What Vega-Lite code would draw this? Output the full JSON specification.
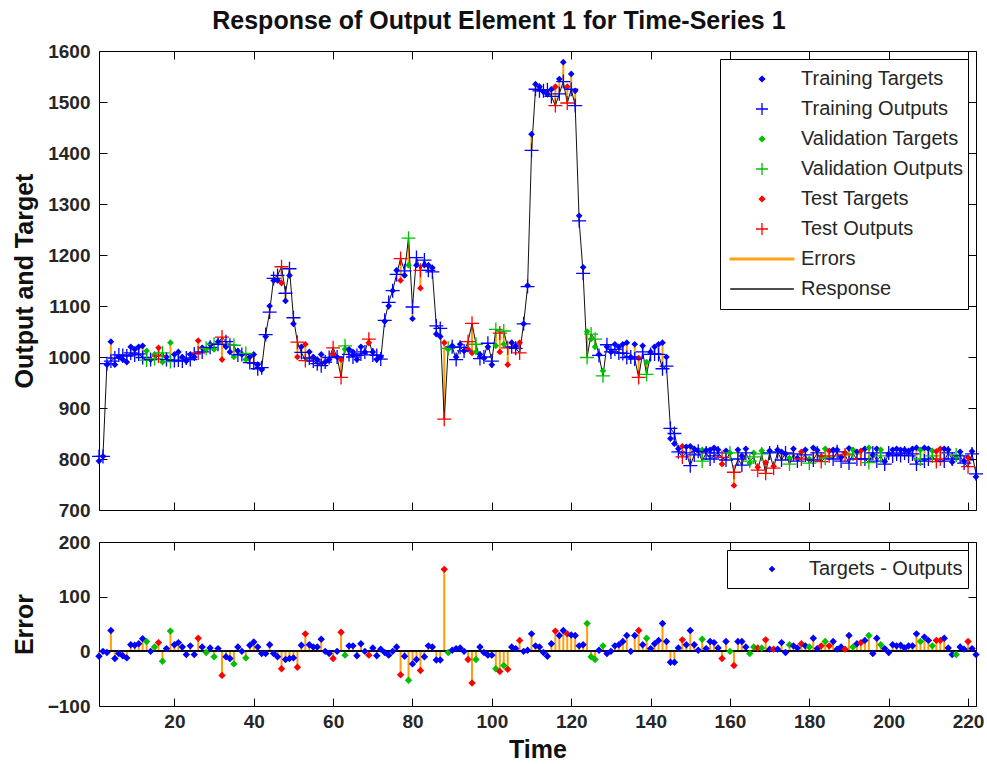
{
  "$schema": "https://vega.github.io/schema/vega-lite/v6.json",
  "background": "white",
  "padding": {"left": 11, "top": 8, "right": 9, "bottom": 2},
  "title": {"text": "Response of Output Element 1 for Time-Series 1", "fontSize": 25, "fontWeight": "bold", "anchor": "middle", "baseline": "alphabetic", "offset": -12, "color": "#111"},
  "bounds": "flush",
  "spacing": 32,
  "config": {
    "font": "Liberation Sans",
    "view": {"stroke": "#000", "strokeWidth": 1},
    "axis": {"domain": false, "grid": false, "ticks": true, "tickSize": -8, "tickColor": "#000", "tickWidth": 1,
             "labelFontSize": 19, "labelFontWeight": "bold", "labelColor": "#262626", "format": "d",
             "titleFontSize": 25, "titleFontWeight": "bold", "titleColor": "#111"},
    "legend": {"labelFontSize": 20, "labelColor": "#262626", "labelFontWeight": "normal", "labelLimit": 400}
  },
  "resolve": {"scale": {"y": "independent", "fill": "independent", "stroke": "independent", "shape": "independent"}, "legend": {"fill": "independent", "stroke": "independent", "shape": "independent"}},
  "datasets": {
    "resp": [
      {"t":1,"set":"Training","target":796,"output":805,"error":-9},
      {"t":2,"set":"Training","target":805,"output":805,"error":0},
      {"t":3,"set":"Training","target":985,"output":987,"error":-2},
      {"t":4,"set":"Training","target":1030,"output":992,"error":38},
      {"t":5,"set":"Training","target":985,"output":998,"error":-13},
      {"t":6,"set":"Training","target":1000,"output":1004,"error":-4},
      {"t":7,"set":"Training","target":995,"output":1003,"error":-8},
      {"t":8,"set":"Training","target":990,"output":1002,"error":-12},
      {"t":9,"set":"Training","target":1020,"output":1008,"error":12},
      {"t":10,"set":"Training","target":1015,"output":1004,"error":11},
      {"t":11,"set":"Training","target":1020,"output":1006,"error":14},
      {"t":12,"set":"Training","target":1022,"output":999,"error":23},
      {"t":13,"set":"Validation","target":1012,"output":994,"error":18},
      {"t":14,"set":"Training","target":995,"output":995,"error":0},
      {"t":15,"set":"Validation","target":1005,"output":997,"error":8},
      {"t":16,"set":"Test","target":1018,"output":1002,"error":16},
      {"t":17,"set":"Validation","target":990,"output":1008,"error":-18},
      {"t":18,"set":"Training","target":1000,"output":995,"error":5},
      {"t":19,"set":"Validation","target":1028,"output":991,"error":37},
      {"t":20,"set":"Training","target":1005,"output":993,"error":12},
      {"t":21,"set":"Training","target":1010,"output":994,"error":16},
      {"t":22,"set":"Training","target":1000,"output":992,"error":8},
      {"t":23,"set":"Training","target":992,"output":998,"error":-6},
      {"t":24,"set":"Training","target":1005,"output":995,"error":10},
      {"t":25,"set":"Training","target":1000,"output":1006,"error":-6},
      {"t":26,"set":"Test","target":1032,"output":1008,"error":24},
      {"t":27,"set":"Training","target":1018,"output":1010,"error":8},
      {"t":28,"set":"Validation","target":1015,"output":1017,"error":-2},
      {"t":29,"set":"Training","target":1025,"output":1019,"error":6},
      {"t":30,"set":"Validation","target":1015,"output":1025,"error":-10},
      {"t":31,"set":"Training","target":1030,"output":1025,"error":5},
      {"t":32,"set":"Test","target":995,"output":1039,"error":-44},
      {"t":33,"set":"Training","target":1020,"output":1030,"error":-10},
      {"t":34,"set":"Training","target":1010,"output":1023,"error":-13},
      {"t":35,"set":"Validation","target":1000,"output":1023,"error":-23},
      {"t":36,"set":"Training","target":1012,"output":1004,"error":8},
      {"t":37,"set":"Training","target":1005,"output":1005,"error":0},
      {"t":38,"set":"Validation","target":995,"output":1007,"error":-12},
      {"t":39,"set":"Training","target":1000,"output":989,"error":11},
      {"t":40,"set":"Training","target":1005,"output":988,"error":17},
      {"t":41,"set":"Training","target":985,"output":977,"error":8},
      {"t":42,"set":"Training","target":975,"output":979,"error":-4},
      {"t":43,"set":"Training","target":1040,"output":1044,"error":-4},
      {"t":44,"set":"Training","target":1100,"output":1088,"error":12},
      {"t":45,"set":"Training","target":1150,"output":1154,"error":-4},
      {"t":46,"set":"Training","target":1150,"output":1160,"error":-10},
      {"t":47,"set":"Test","target":1145,"output":1177,"error":-32},
      {"t":48,"set":"Training","target":1110,"output":1125,"error":-15},
      {"t":49,"set":"Training","target":1160,"output":1173,"error":-13},
      {"t":50,"set":"Training","target":1065,"output":1077,"error":-12},
      {"t":51,"set":"Test","target":1000,"output":1029,"error":-29},
      {"t":52,"set":"Training","target":1020,"output":1009,"error":11},
      {"t":53,"set":"Test","target":1025,"output":993,"error":32},
      {"t":54,"set":"Training","target":1010,"output":998,"error":12},
      {"t":55,"set":"Training","target":1000,"output":992,"error":8},
      {"t":56,"set":"Training","target":995,"output":987,"error":8},
      {"t":57,"set":"Training","target":1005,"output":983,"error":22},
      {"t":58,"set":"Training","target":990,"output":990,"error":0},
      {"t":59,"set":"Training","target":995,"output":999,"error":-4},
      {"t":60,"set":"Test","target":1005,"output":1018,"error":-13},
      {"t":61,"set":"Training","target":1000,"output":1000,"error":0},
      {"t":62,"set":"Test","target":995,"output":960,"error":35},
      {"t":63,"set":"Validation","target":1015,"output":1022,"error":-7},
      {"t":64,"set":"Training","target":1015,"output":1005,"error":10},
      {"t":65,"set":"Training","target":1010,"output":1000,"error":10},
      {"t":66,"set":"Training","target":995,"output":1003,"error":-8},
      {"t":67,"set":"Training","target":1020,"output":1006,"error":14},
      {"t":68,"set":"Training","target":1010,"output":1010,"error":0},
      {"t":69,"set":"Test","target":1028,"output":1035,"error":-7},
      {"t":70,"set":"Training","target":1010,"output":1004,"error":6},
      {"t":71,"set":"Training","target":995,"output":1003,"error":-8},
      {"t":72,"set":"Training","target":1000,"output":996,"error":4},
      {"t":73,"set":"Training","target":1070,"output":1072,"error":-2},
      {"t":74,"set":"Training","target":1100,"output":1107,"error":-7},
      {"t":75,"set":"Training","target":1130,"output":1130,"error":0},
      {"t":76,"set":"Training","target":1170,"output":1162,"error":8},
      {"t":77,"set":"Test","target":1150,"output":1193,"error":-43},
      {"t":78,"set":"Training","target":1160,"output":1169,"error":-9},
      {"t":79,"set":"Validation","target":1180,"output":1233,"error":-53},
      {"t":80,"set":"Training","target":1075,"output":1098,"error":-23},
      {"t":81,"set":"Training","target":1180,"output":1195,"error":-15},
      {"t":82,"set":"Test","target":1135,"output":1170,"error":-35},
      {"t":83,"set":"Training","target":1180,"output":1190,"error":-10},
      {"t":84,"set":"Training","target":1180,"output":1170,"error":10},
      {"t":85,"set":"Training","target":1175,"output":1167,"error":8},
      {"t":86,"set":"Training","target":1045,"output":1061,"error":-16},
      {"t":87,"set":"Training","target":1040,"output":1056,"error":-16},
      {"t":88,"set":"Test","target":1028,"output":878,"error":150},
      {"t":89,"set":"Validation","target":1015,"output":1017,"error":-2},
      {"t":90,"set":"Training","target":1022,"output":1020,"error":2},
      {"t":91,"set":"Training","target":1000,"output":995,"error":5},
      {"t":92,"set":"Training","target":1025,"output":1019,"error":6},
      {"t":93,"set":"Training","target":1012,"output":1012,"error":0},
      {"t":94,"set":"Test","target":1015,"output":1030,"error":-15},
      {"t":95,"set":"Test","target":1008,"output":1066,"error":-58},
      {"t":96,"set":"Validation","target":1010,"output":1025,"error":-15},
      {"t":97,"set":"Training","target":1005,"output":997,"error":8},
      {"t":98,"set":"Training","target":998,"output":1000,"error":-2},
      {"t":99,"set":"Training","target":1020,"output":1027,"error":-7},
      {"t":100,"set":"Training","target":985,"output":992,"error":-7},
      {"t":101,"set":"Validation","target":1022,"output":1054,"error":-32},
      {"t":102,"set":"Test","target":1010,"output":1047,"error":-37},
      {"t":103,"set":"Validation","target":1025,"output":1051,"error":-26},
      {"t":104,"set":"Test","target":985,"output":1018,"error":-33},
      {"t":105,"set":"Training","target":1028,"output":1020,"error":8},
      {"t":106,"set":"Training","target":1022,"output":1017,"error":5},
      {"t":107,"set":"Test","target":1028,"output":1008,"error":20},
      {"t":108,"set":"Training","target":1065,"output":1065,"error":0},
      {"t":109,"set":"Training","target":1140,"output":1138,"error":2},
      {"t":110,"set":"Training","target":1437,"output":1405,"error":32},
      {"t":111,"set":"Training","target":1535,"output":1525,"error":10},
      {"t":112,"set":"Training","target":1530,"output":1522,"error":8},
      {"t":113,"set":"Training","target":1520,"output":1522,"error":-2},
      {"t":114,"set":"Training","target":1515,"output":1524,"error":-9},
      {"t":115,"set":"Training","target":1525,"output":1511,"error":14},
      {"t":116,"set":"Test","target":1530,"output":1493,"error":37},
      {"t":117,"set":"Training","target":1545,"output":1516,"error":29},
      {"t":118,"set":"Training","target":1578,"output":1540,"error":38},
      {"t":119,"set":"Test","target":1530,"output":1498,"error":32},
      {"t":120,"set":"Training","target":1555,"output":1525,"error":30},
      {"t":121,"set":"Training","target":1522,"output":1493,"error":29},
      {"t":122,"set":"Training","target":1277,"output":1267,"error":10},
      {"t":123,"set":"Training","target":1176,"output":1164,"error":12},
      {"t":124,"set":"Validation","target":1050,"output":999,"error":51},
      {"t":125,"set":"Validation","target":1035,"output":1045,"error":-10},
      {"t":126,"set":"Validation","target":1020,"output":1035,"error":-15},
      {"t":127,"set":"Training","target":1005,"output":1003,"error":2},
      {"t":128,"set":"Validation","target":973,"output":963,"error":10},
      {"t":129,"set":"Training","target":1020,"output":1024,"error":-4},
      {"t":130,"set":"Training","target":1010,"output":1010,"error":0},
      {"t":131,"set":"Training","target":1025,"output":1015,"error":10},
      {"t":132,"set":"Training","target":1020,"output":1008,"error":12},
      {"t":133,"set":"Training","target":1025,"output":1007,"error":18},
      {"t":134,"set":"Training","target":1028,"output":999,"error":29},
      {"t":135,"set":"Training","target":1000,"output":1000,"error":0},
      {"t":136,"set":"Training","target":1025,"output":996,"error":29},
      {"t":137,"set":"Test","target":998,"output":960,"error":38},
      {"t":138,"set":"Training","target":1022,"output":1010,"error":12},
      {"t":139,"set":"Validation","target":990,"output":966,"error":24},
      {"t":140,"set":"Training","target":1010,"output":1005,"error":5},
      {"t":141,"set":"Training","target":1020,"output":1006,"error":14},
      {"t":142,"set":"Training","target":1025,"output":1005,"error":20},
      {"t":143,"set":"Training","target":1028,"output":977,"error":51},
      {"t":144,"set":"Training","target":1000,"output":982,"error":18},
      {"t":145,"set":"Training","target":840,"output":860,"error":-20},
      {"t":146,"set":"Training","target":830,"output":850,"error":-20},
      {"t":147,"set":"Training","target":820,"output":814,"error":6},
      {"t":148,"set":"Test","target":825,"output":804,"error":21},
      {"t":149,"set":"Training","target":824,"output":812,"error":12},
      {"t":150,"set":"Training","target":825,"output":787,"error":38},
      {"t":151,"set":"Training","target":820,"output":808,"error":12},
      {"t":152,"set":"Training","target":817,"output":815,"error":2},
      {"t":153,"set":"Validation","target":818,"output":796,"error":22},
      {"t":154,"set":"Training","target":817,"output":812,"error":5},
      {"t":155,"set":"Training","target":818,"output":800,"error":18},
      {"t":156,"set":"Training","target":822,"output":806,"error":16},
      {"t":157,"set":"Training","target":818,"output":812,"error":6},
      {"t":158,"set":"Test","target":790,"output":803,"error":-13},
      {"t":159,"set":"Training","target":816,"output":798,"error":18},
      {"t":160,"set":"Validation","target":812,"output":812,"error":0},
      {"t":161,"set":"Test","target":748,"output":774,"error":-26},
      {"t":162,"set":"Training","target":818,"output":800,"error":18},
      {"t":163,"set":"Training","target":806,"output":788,"error":18},
      {"t":164,"set":"Training","target":820,"output":812,"error":8},
      {"t":165,"set":"Validation","target":792,"output":796,"error":-4},
      {"t":166,"set":"Validation","target":812,"output":804,"error":8},
      {"t":167,"set":"Test","target":784,"output":778,"error":6},
      {"t":168,"set":"Validation","target":816,"output":810,"error":6},
      {"t":169,"set":"Test","target":793,"output":772,"error":21},
      {"t":170,"set":"Training","target":816,"output":812,"error":4},
      {"t":171,"set":"Test","target":786,"output":782,"error":4},
      {"t":172,"set":"Training","target":818,"output":814,"error":4},
      {"t":173,"set":"Training","target":814,"output":798,"error":16},
      {"t":174,"set":"Training","target":810,"output":812,"error":-2},
      {"t":175,"set":"Validation","target":802,"output":790,"error":12},
      {"t":176,"set":"Training","target":820,"output":810,"error":10},
      {"t":177,"set":"Training","target":802,"output":796,"error":6},
      {"t":178,"set":"Test","target":814,"output":800,"error":14},
      {"t":179,"set":"Training","target":818,"output":808,"error":10},
      {"t":180,"set":"Validation","target":800,"output":792,"error":8},
      {"t":181,"set":"Training","target":822,"output":798,"error":24},
      {"t":182,"set":"Training","target":817,"output":812,"error":5},
      {"t":183,"set":"Test","target":805,"output":795,"error":10},
      {"t":184,"set":"Validation","target":820,"output":802,"error":18},
      {"t":185,"set":"Test","target":816,"output":806,"error":10},
      {"t":186,"set":"Training","target":818,"output":800,"error":18},
      {"t":187,"set":"Training","target":818,"output":814,"error":4},
      {"t":188,"set":"Training","target":804,"output":796,"error":8},
      {"t":189,"set":"Test","target":812,"output":808,"error":4},
      {"t":190,"set":"Training","target":821,"output":792,"error":29},
      {"t":191,"set":"Validation","target":818,"output":810,"error":8},
      {"t":192,"set":"Training","target":814,"output":800,"error":14},
      {"t":193,"set":"Test","target":816,"output":800,"error":16},
      {"t":194,"set":"Training","target":820,"output":800,"error":20},
      {"t":195,"set":"Validation","target":822,"output":793,"error":29},
      {"t":196,"set":"Training","target":808,"output":812,"error":-4},
      {"t":197,"set":"Training","target":820,"output":796,"error":24},
      {"t":198,"set":"Validation","target":818,"output":806,"error":12},
      {"t":199,"set":"Training","target":795,"output":790,"error":5},
      {"t":200,"set":"Training","target":810,"output":812,"error":-2},
      {"t":201,"set":"Training","target":818,"output":806,"error":12},
      {"t":202,"set":"Training","target":820,"output":810,"error":10},
      {"t":203,"set":"Training","target":818,"output":807,"error":11},
      {"t":204,"set":"Training","target":818,"output":812,"error":6},
      {"t":205,"set":"Training","target":816,"output":806,"error":10},
      {"t":206,"set":"Training","target":820,"output":810,"error":10},
      {"t":207,"set":"Training","target":822,"output":790,"error":32},
      {"t":208,"set":"Validation","target":818,"output":800,"error":18},
      {"t":209,"set":"Training","target":822,"output":796,"error":26},
      {"t":210,"set":"Training","target":820,"output":800,"error":20},
      {"t":211,"set":"Validation","target":816,"output":806,"error":10},
      {"t":212,"set":"Test","target":815,"output":795,"error":20},
      {"t":213,"set":"Test","target":820,"output":800,"error":20},
      {"t":214,"set":"Training","target":820,"output":796,"error":24},
      {"t":215,"set":"Training","target":818,"output":812,"error":6},
      {"t":216,"set":"Training","target":794,"output":800,"error":-6},
      {"t":217,"set":"Validation","target":802,"output":808,"error":-6},
      {"t":218,"set":"Training","target":814,"output":806,"error":8},
      {"t":219,"set":"Training","target":796,"output":792,"error":4},
      {"t":220,"set":"Test","target":803,"output":785,"error":18},
      {"t":221,"set":"Training","target":815,"output":810,"error":5},
      {"t":222,"set":"Training","target":765,"output":771,"error":-6}
    ],
    "legendTop": [
      {"label": "Training Targets"}, {"label": "Training Outputs"},
      {"label": "Validation Targets"}, {"label": "Validation Outputs"},
      {"label": "Test Targets"}, {"label": "Test Outputs"},
      {"label": "Errors"}, {"label": "Response"}
    ],
    "legendBottom": [{"label": "Targets - Outputs"}]
  },
  "vconcat": [
    {
      "width": 877,
      "height": 459,
      "data": {"name": "resp"},
      "resolve": {"axis": {"x": "independent", "y": "independent"}},
      "layer": [
        {
          "mark": {"type": "rule", "color": "#ff9d0a", "strokeWidth": 2},
          "encoding": {
            "x": {"field": "t", "type": "quantitative", "scale": {"domain": [1, 222], "nice": false, "zero": false},
                  "axis": {"orient": "bottom", "labels": false, "title": null, "values": [20,40,60,80,100,120,140,160,180,200,220]}},
            "y": {"field": "target", "type": "quantitative", "scale": {"domain": [700, 1600], "nice": false, "zero": false},
                  "axis": {"orient": "left", "title": "Output and Target", "values": [700,800,900,1000,1100,1200,1300,1400,1500,1600], "labelPadding": 17, "titlePadding": 10}},
            "y2": {"field": "output"}
          }
        },
        {
          "mark": {"type": "line", "color": "#111", "strokeWidth": 1},
          "encoding": {
            "x": {"field": "t", "type": "quantitative",
                  "axis": {"orient": "top", "labels": false, "title": null, "values": [20,40,60,80,100,120,140,160,180,200,220]}},
            "y": {"field": "output", "type": "quantitative",
                  "axis": {"orient": "right", "labels": false, "title": null, "values": [700,800,900,1000,1100,1200,1300,1400,1500,1600]}}
          }
        },
        {
          "mark": {"type": "point", "shape": "diamond", "filled": true, "size": 45, "opacity": 1},
          "encoding": {
            "x": {"field": "t", "type": "quantitative", "axis": null},
            "y": {"field": "target", "type": "quantitative", "axis": null},
            "color": {"field": "set", "type": "nominal", "scale": {"domain": ["Training", "Validation", "Test"], "range": ["#0000ff", "#00c000", "#ff0000"]}, "legend": null}
          }
        },
        {
          "mark": {"type": "point", "shape": "M-1,0H1M0,-1V1", "filled": false, "size": 196, "strokeWidth": 1.3, "opacity": 1},
          "encoding": {
            "x": {"field": "t", "type": "quantitative", "axis": null},
            "y": {"field": "output", "type": "quantitative", "axis": null},
            "color": {"field": "set", "type": "nominal", "legend": null}
          }
        },
        {
          "data": {"name": "legendTop"},
          "transform": [{"filter": "false"}],
          "mark": {"type": "point", "filled": true, "opacity": 1},
          "encoding": {
            "fill": {"field": "label", "type": "nominal",
                     "scale": {"domain": ["Training Targets", "Training Outputs", "Validation Targets", "Validation Outputs", "Test Targets", "Test Outputs", "Errors", "Response"],
                               "range": ["#0000ff", "#0000ff", "#00c000", "#00c000", "#ff0000", "#ff0000", "#ff9d0a", "#111111"]},
                     "legend": {"title": null, "orient": "top-right", "offset": 8, "padding": 5, "fillColor": "white", "strokeColor": "#000",
                                "clipHeight": 30, "rowPadding": 0, "symbolSize": 144, "symbolStrokeWidth": 1.3, "symbolOffset": 27, "labelOffset": 29}},
            "stroke": {"field": "label", "type": "nominal",
                       "scale": {"domain": ["Training Targets", "Training Outputs", "Validation Targets", "Validation Outputs", "Test Targets", "Test Outputs", "Errors", "Response"],
                                 "range": ["#0000ff", "#0000ff", "#00c000", "#00c000", "#ff0000", "#ff0000", "#ff9d0a", "#111111"]},
                       "legend": {"title": null, "orient": "top-right", "offset": 8, "padding": 5, "fillColor": "white", "strokeColor": "#000",
                                  "clipHeight": 30, "rowPadding": 0, "symbolSize": 144, "symbolStrokeWidth": 1.3, "symbolOffset": 27, "labelOffset": 29}},
            "shape": {"field": "label", "type": "nominal",
                      "scale": {"domain": ["Training Targets", "Training Outputs", "Validation Targets", "Validation Outputs", "Test Targets", "Test Outputs", "Errors", "Response"],
                                "range": ["M0,-0.45L0.45,0L0,0.45L-0.45,0Z", "M-1,0H1M0,-1V1", "M0,-0.45L0.45,0L0,0.45L-0.45,0Z", "M-1,0H1M0,-1V1", "M0,-0.45L0.45,0L0,0.45L-0.45,0Z", "M-1,0H1M0,-1V1", "M-5.3,-0.13H5.3V0.13H-5.3Z", "M-5.3,0H5.3"]},
                      "legend": {"title": null, "orient": "top-right", "offset": 8, "padding": 5, "fillColor": "white", "strokeColor": "#000",
                                 "clipHeight": 30, "rowPadding": 0, "symbolSize": 144, "symbolStrokeWidth": 1.3, "symbolOffset": 27, "labelOffset": 29}}
          }
        }
      ]
    },
    {
      "width": 877,
      "height": 164,
      "data": {"name": "resp"},
      "resolve": {"axis": {"x": "independent", "y": "independent"}},
      "layer": [
        {
          "mark": {"type": "rule", "color": "#ff9d0a", "strokeWidth": 2},
          "encoding": {
            "x": {"field": "t", "type": "quantitative", "scale": {"domain": [1, 222], "nice": false, "zero": false},
                  "axis": {"orient": "bottom", "title": "Time", "values": [20,40,60,80,100,120,140,160,180,200,220], "labelPadding": 14, "titlePadding": 6}},
            "y": {"field": "error", "type": "quantitative", "scale": {"domain": [-100, 200], "nice": false, "zero": false},
                  "axis": {"orient": "left", "title": "Error", "values": [-100, 0, 100, 200], "labelPadding": 17, "titlePadding": 10}},
            "y2": {"datum": 0}
          }
        },
        {
          "mark": {"type": "rule", "color": "#111", "strokeWidth": 1},
          "encoding": {"y": {"datum": 0, "type": "quantitative", "axis": null}}
        },
        {
          "mark": {"type": "point", "shape": "diamond", "filled": true, "size": 55, "opacity": 1},
          "encoding": {
            "x": {"field": "t", "type": "quantitative",
                  "axis": {"orient": "top", "labels": false, "title": null, "values": [20,40,60,80,100,120,140,160,180,200,220]}},
            "y": {"field": "error", "type": "quantitative",
                  "axis": {"orient": "right", "labels": false, "title": null, "values": [-100, 0, 100, 200]}},
            "color": {"field": "set", "type": "nominal", "scale": {"domain": ["Training", "Validation", "Test"], "range": ["#0000ff", "#00c000", "#ff0000"]}, "legend": null}
          }
        },
        {
          "data": {"name": "legendBottom"},
          "transform": [{"filter": "false"}],
          "mark": {"type": "point", "filled": true, "opacity": 1},
          "encoding": {
            "fill": {"field": "label", "type": "nominal", "scale": {"domain": ["Targets - Outputs"], "range": ["#0000ff"]},
                     "legend": {"title": null, "orient": "top-right", "offset": 8, "padding": 5, "fillColor": "white", "strokeColor": "#000",
                                "clipHeight": 28, "rowPadding": 0, "symbolSize": 144, "symbolStrokeWidth": 1, "symbolOffset": 30, "labelOffset": 27}},
            "shape": {"field": "label", "type": "nominal", "scale": {"domain": ["Targets - Outputs"], "range": ["M0,-0.55L0.55,0L0,0.55L-0.55,0Z"]},
                      "legend": {"title": null, "orient": "top-right", "offset": 8, "padding": 5, "fillColor": "white", "strokeColor": "#000",
                                 "clipHeight": 28, "rowPadding": 0, "symbolSize": 144, "symbolStrokeWidth": 1, "symbolOffset": 30, "labelOffset": 27}}
          }
        }
      ]
    }
  ]
}
